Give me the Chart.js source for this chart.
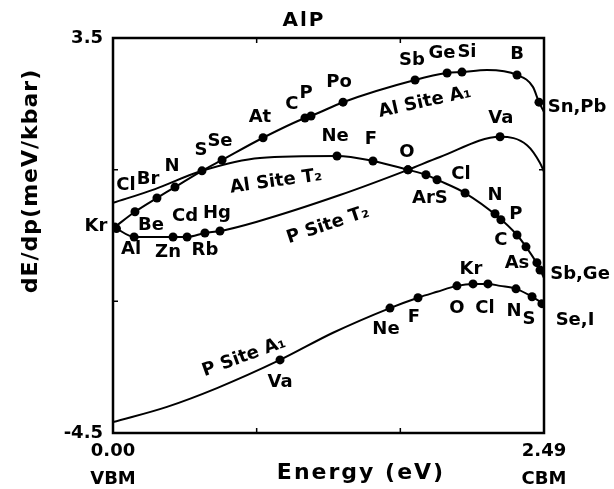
<!DOCTYPE html>
<html>
<head>
<meta charset="utf-8">
<title>AlP dE/dp</title>
<script src="https://cdn.jsdelivr.net/npm/chart.js@4.4.1/dist/chart.umd.min.js"></script>
<style>
  html, body { margin: 0; padding: 0; background: #fff; }
  canvas { display: block; }
</style>
</head>
<body>
<canvas id="chart" width="614" height="489"></canvas>
<script>
// axis ranges and tick values (eV, meV/kbar)
const xTicks = [0, 0.83, 1.66, 2.49];
const yTicks = [-4.5, -1.83, 0.83, 3.5];

// curves, [energy, dE/dp]
const alSiteA1Curve = [[0.01, -0.33], [0.127, -0.02], [0.254, 0.26], [0.358, 0.48], [0.514, 0.81], [0.63, 1.03],
    [0.867, 1.48], [1.109, 1.88], [1.144, 1.92], [1.329, 2.2], [1.745, 2.65], [1.93, 2.79], [2.016, 2.81],
    [2.161, 2.85], [2.334, 2.75], [2.426, 2.51], [2.461, 2.2], [2.49, 2.0]];
const alSiteT2Curve = [[0, 0.16], [0.243, 0.44], [0.514, 0.81], [0.849, 1.07], [1.294, 1.11], [1.502, 1.01],
    [1.704, 0.83], [1.808, 0.73], [1.872, 0.63], [2.034, 0.36], [2.224, -0.12], [2.334, -0.49],
    [2.386, -0.73], [2.461, -1.14], [2.49, -1.36]];
const pSiteT2Curve = [[0.02, -0.36], [0.122, -0.53], [0.347, -0.53], [0.428, -0.53], [0.531, -0.45],
    [0.618, -0.41], [0.832, -0.22], [1.311, 0.32], [1.704, 0.83], [1.889, 1.09], [2.236, 1.5],
    [2.392, 1.33], [2.467, 0.97], [2.49, 0.79]];
const pSiteA1Curve = [[0, -4.28], [0.312, -3.97], [0.601, -3.59], [0.965, -3.02], [1.271, -2.47], [1.6, -1.97],
    [1.762, -1.76], [1.872, -1.64], [1.987, -1.52], [2.08, -1.48], [2.166, -1.48], [2.236, -1.52],
    [2.328, -1.58], [2.421, -1.74], [2.478, -1.88], [2.49, -1.95]];

// impurity dots on each curve
const alSiteA1Dots = [[0.01, -0.33], [0.127, -0.02], [0.254, 0.26], [0.358, 0.48], [0.514, 0.81], [0.63, 1.03],
    [0.867, 1.48], [1.109, 1.88], [1.144, 1.92], [1.329, 2.2], [1.745, 2.65], [1.93, 2.79], [2.016, 2.81],
    [2.334, 2.75], [2.461, 2.2]];
const alSiteT2Dots = [[1.294, 1.11], [1.502, 1.01], [1.704, 0.83], [1.808, 0.73], [1.872, 0.63], [2.034, 0.36],
    [2.207, -0.06], [2.241, -0.18], [2.334, -0.49], [2.386, -0.73], [2.449, -1.05], [2.467, -1.2]];
const pSiteT2Dots = [[0.02, -0.36], [0.122, -0.53], [0.347, -0.53], [0.428, -0.53], [0.531, -0.45],
    [0.618, -0.41], [1.704, 0.83], [2.236, 1.5]];
const pSiteA1Dots = [[0.965, -3.02], [1.6, -1.97], [1.762, -1.76], [1.987, -1.52], [2.08, -1.48], [2.166, -1.48],
    [2.328, -1.58], [2.421, -1.74], [2.478, -1.88]];

// impurity names, placed at [energy, dE/dp]
const labelSpots = [
    ['Kr', -0.098, -0.31], ['Cl', 0.075, 0.52], ['Br', 0.202, 0.63], ['N', 0.341, 0.91], ['S', 0.508, 1.23],
    ['Se', 0.618, 1.41], ['At', 0.849, 1.9], ['C', 1.034, 2.16], ['P', 1.115, 2.37], ['Po', 1.306, 2.61],
    ['Sb', 1.727, 3.05], ['Ge', 1.901, 3.18], ['Si', 2.045, 3.2], ['B', 2.334, 3.16], ['Sn,Pb', 2.681, 2.1],
    ['Be', 0.22, -0.29], ['Cd', 0.416, -0.12], ['Hg', 0.601, -0.06], ['Al', 0.104, -0.79], ['Zn', 0.318, -0.85],
    ['Rb', 0.531, -0.81], ['Ne', 1.283, 1.5], ['F', 1.49, 1.44], ['O', 1.698, 1.19], ['Cl', 2.01, 0.73],
    ['ArS', 1.831, 0.26], ['Va', 2.241, 1.88], ['N', 2.207, 0.32], ['P', 2.328, -0.08], ['C', 2.241, -0.59],
    ['As', 2.334, -1.06], ['Sb,Ge', 2.698, -1.28], ['Kr', 2.068, -1.18], ['O', 1.987, -1.97], ['Cl', 2.149, -1.97],
    ['N', 2.317, -2.03], ['S', 2.403, -2.19], ['Se,I', 2.669, -2.21], ['Ne', 1.577, -2.41], ['F', 1.739, -2.15],
    ['Va', 0.965, -3.48]
];
// curve names: text, energy, dE/dp, angle in degrees
const curveNames = [
    ['Al Site A₁', 1.802, 2.2, -12.5],
    ['Al Site T₂', 0.942, 0.59, -8],
    ['P Site T₂', 1.242, -0.29, -18.5],
    ['P Site A₁', 0.757, -2.96, -20]
];

const toXY = arr => arr.map(([x, y]) => ({ x, y }));

function curve(points) {
    return {
        data: toXY(points),
        showLine: true,
        borderColor: '#000',
        borderWidth: 2,
        pointRadius: 0,
        cubicInterpolationMode: 'monotone',
        order: 1
    };
}

function dots(points) {
    return {
        data: toXY(points),
        showLine: false,
        pointRadius: 4.5,
        pointBackgroundColor: '#000',
        pointBorderWidth: 0,
        order: 0
    };
}

const near = (a, b) => Math.abs(a - b) < 0.01;

// frame, inner tick marks and all the free text
const decor = {
    id: 'decor',
    afterDraw(chart) {
        const { ctx, chartArea: a, scales: { x, y } } = chart;
        ctx.save();
        ctx.strokeStyle = '#000';
        ctx.lineWidth = 2.5;
        ctx.strokeRect(a.left, a.top, a.right - a.left, a.bottom - a.top);

        ctx.lineWidth = 1.5;
        ctx.beginPath();
        xTicks.slice(1, -1).forEach(v => {
            const px = x.getPixelForValue(v);
            ctx.moveTo(px, a.top); ctx.lineTo(px, a.top + 5);
            ctx.moveTo(px, a.bottom); ctx.lineTo(px, a.bottom - 5);
        });
        yTicks.slice(1, -1).forEach(v => {
            const py = y.getPixelForValue(v);
            ctx.moveTo(a.left, py); ctx.lineTo(a.left + 5, py);
            ctx.moveTo(a.right, py); ctx.lineTo(a.right - 5, py);
        });
        ctx.stroke();

        ctx.fillStyle = '#000';
        ctx.textAlign = 'center';
        ctx.textBaseline = 'middle';
        ctx.font = "bold 18px 'DejaVu Sans'";
        labelSpots.forEach(([t, vx, vy]) => {
            ctx.fillText(t, x.getPixelForValue(vx), y.getPixelForValue(vy));
        });

        curveNames.forEach(([t, vx, vy, deg]) => {
            ctx.save();
            ctx.translate(x.getPixelForValue(vx), y.getPixelForValue(vy));
            ctx.rotate(deg * Math.PI / 180);
            ctx.fillText(t, 0, 0);
            ctx.restore();
        });

        // title and axis titles
        ctx.font = "bold 20px 'DejaVu Sans'";
        ctx.letterSpacing = '2px';
        ctx.fillText('AlP', 304, 21);

        ctx.font = "bold 22px 'DejaVu Sans'";
        ctx.letterSpacing = '2px';
        ctx.fillText('Energy (eV)', 361, 473);
        ctx.letterSpacing = '1px';
        ctx.save();
        ctx.translate(31, 181);
        ctx.rotate(-Math.PI / 2);
        ctx.fillText('dE/dp(meV/kbar)', 0, 0);
        ctx.restore();
        ctx.restore();
    }
};

const chart = new Chart(document.getElementById('chart'), {
    type: 'scatter',
    data: {
        datasets: [
            dots(alSiteA1Dots), dots(alSiteT2Dots), dots(pSiteT2Dots), dots(pSiteA1Dots),
            curve(alSiteA1Curve), curve(alSiteT2Curve), curve(pSiteT2Curve), curve(pSiteA1Curve)
        ]
    },
    options: {
        responsive: false,
        animation: false,
        devicePixelRatio: 1,
        layout: { padding: { top: 38, right: 70, left: 0, bottom: 0 } },
        plugins: { legend: { display: false }, tooltip: { enabled: false } },
        scales: {
            x: {
                type: 'linear',
                min: 0,
                max: 2.49,
                afterBuildTicks: s => { s.ticks = xTicks.map(v => ({ value: v })); },
                afterFit: s => { s.height = 56; },
                grid: { display: false, drawTicks: false },
                border: { display: false },
                ticks: {
                    autoSkip: false,
                    maxRotation: 0,
                    padding: 4,
                    color: '#000',
                    font: { family: 'DejaVu Sans', size: 18, weight: 'bold', lineHeight: 1.55 },
                    callback: v => near(v, 0) ? ['0.00', 'VBM'] : near(v, 2.49) ? ['2.49', 'CBM'] : ''
                }
            },
            y: {
                type: 'linear',
                min: -4.5,
                max: 3.5,
                afterBuildTicks: s => { s.ticks = yTicks.map(v => ({ value: v })); },
                afterFit: s => { s.width = 113; },
                grid: { display: false, drawTicks: false },
                border: { display: false },
                ticks: {
                    autoSkip: false,
                    padding: 10,
                    color: '#000',
                    font: { family: 'DejaVu Sans', size: 18, weight: 'bold' },
                    callback: v => near(v, 3.5) ? '3.5' : near(v, -4.5) ? '-4.5' : ''
                }
            }
        }
    },
    plugins: [decor]
});
</script>
</body>
</html>
